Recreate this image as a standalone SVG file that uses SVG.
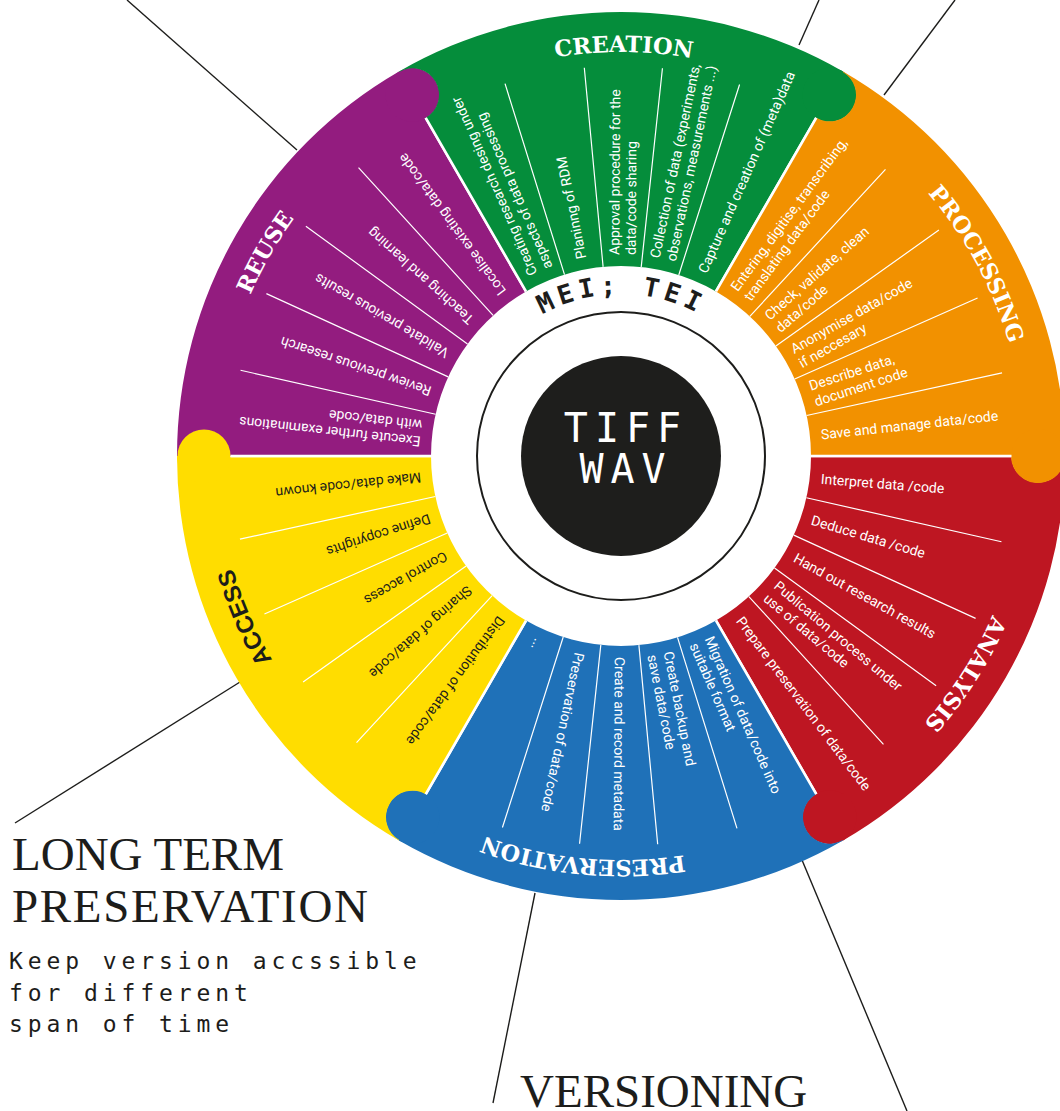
<svg xmlns="http://www.w3.org/2000/svg" width="1060" height="1111" viewBox="0 0 1060 1111">
<style>
.it{font-family:Roboto,"Liberation Sans",sans-serif;font-size:14px;fill:#fff}
.dk .it{fill:#1d1d1b}
.div{stroke:#fff;stroke-width:1.2;fill:none}
.sep{stroke:#fff;stroke-width:2.6;fill:none}
.title{font-family:"DejaVu Serif",serif;font-weight:bold;font-size:22.5px;fill:#fff}
.sans{font-family:"Liberation Sans",Arial,sans-serif;font-weight:bold;font-size:24px;fill:#1d1d1b}
.conn{stroke:#1d1d1b;stroke-width:1.4;fill:none}
.mono{font-family:"DejaVu Sans Mono","Liberation Mono",monospace}
.big{font-family:"Liberation Serif","Times New Roman",serif;font-size:47px;fill:#1d1d1b}
</style>
<defs>
<path id="sector" d="M190,0 L390.5,0 A26.5,26.5 0 0 0 443.5,0 L444,0 A444,444 0 0 1 222,384.52 L95,164.54 A190,190 0 0 0 190,0 Z"/>
<g id="lines">
<path class="div" d="M185.35,41.77 L380.46,85.74 M172.76,79.09 L354.6,162.35 M153.52,111.95 L315.12,229.79 M127.87,140.53 L262.47,288.46"/>
<path class="sep" d="M190,0 L390.5,0 M95,164.54 L195.25,338.18"/>
</g>
<path id="tp" d="M1025,456 A404,404 0 0 1 217,456 A404,404 0 0 1 1025,456"/>
<path id="tp2" d="M783,456 A162,162 0 0 1 459,456 A162,162 0 0 1 783,456"/>
</defs>
<rect width="1060" height="1111" fill="#fff"/>

<g id="connectors">
<path class="conn" d="M127,0 L297,150"/>
<path class="conn" d="M819,0 L799,45"/>
<path class="conn" d="M955,0 L884,95"/>
<path class="conn" d="M240,682 L15,823"/>
<path class="conn" d="M535,893 L493,1103"/>
<path class="conn" d="M802,860 L907,1111"/>
</g>

<g id="analysis">
<g transform="translate(621 456) rotate(0)">
<use href="#sector" fill="#BE1622"/>
<circle cx="208.5" cy="361.13" r="27" fill="#BE1622"/>
<use href="#lines"/>
<text class="it" transform="rotate(4.5)" x="201" y="12">Interpret data /code</text>
<text class="it" transform="rotate(16.5)" x="201" y="12">Deduce data /code</text>
<text class="it" transform="rotate(29)" x="201" y="9">Hand out research results</text>
<text class="it" transform="rotate(40)"><tspan x="201" y="3">Publication process under</tspan><tspan x="201" y="19.5">use of data/code</tspan></text>
<text class="it" transform="rotate(53)" x="201" y="8">Prepare preservation of data/code</text>
</g>
<text class="title" text-anchor="middle"><textPath href="#tp" startOffset="227.8">ANALYSIS</textPath></text>
</g>

<g id="preservation">
<g transform="translate(621 456) rotate(60)">
<use href="#sector" fill="#1F71B8"/>
<circle cx="208.5" cy="361.13" r="27" fill="#1F71B8"/>
<use href="#lines"/>
<text class="it" transform="rotate(6.35)"><tspan x="201" y="-3">Migration of data/code into</tspan><tspan x="201" y="13.5">suitable format</tspan></text>
<text class="it" transform="rotate(18.65)"><tspan x="201" y="-3">Create backup and</tspan><tspan x="201" y="13.5">save data/code</tspan></text>
<text class="it" transform="rotate(30.35)" x="201" y="5">Create and record metadata</text>
<text class="it" transform="rotate(41.9)" x="201" y="5">Preservation of data/code</text>
<text class="it" transform="rotate(53.85)" x="201" y="5">...</text>
</g>
<text class="title" text-anchor="middle"><textPath href="#tp" startOffset="672.7">PRESERVATION</textPath></text>
</g>

<g id="access" class="dk">
<g transform="translate(621 456) rotate(120)">
<use href="#sector" fill="#FFDD00"/>
<circle cx="208.5" cy="361.13" r="27" fill="#FFDD00"/>
<use href="#lines"/>
<text class="it" transform="rotate(6.35)" x="201" y="5">Distribution of data/code</text>
<text class="it" transform="rotate(18.65)" x="201" y="5">Sharing of data/code</text>
<text class="it" transform="rotate(30.35)" x="201" y="5">Control access</text>
<text class="it" transform="rotate(41.9)" x="201" y="5">Define copyrights</text>
<text class="it" transform="rotate(53.85)" x="201" y="5">Make data/code known</text>
</g>
<text class="sans" text-anchor="middle"><textPath href="#tp" startOffset="1104.9">ACCESS</textPath></text>
</g>

<g id="reuse">
<g transform="translate(621 456) rotate(180)">
<use href="#sector" fill="#931C7F"/>
<circle cx="208.5" cy="361.13" r="27" fill="#931C7F"/>
<use href="#lines"/>
<text class="it" transform="rotate(6.35)"><tspan x="201" y="-3">Execute further examinations</tspan><tspan x="201" y="13.5">with data/code</tspan></text>
<text class="it" transform="rotate(18.65)" x="201" y="5">Review previous research</text>
<text class="it" transform="rotate(30.35)" x="201" y="5">Validate previous results</text>
<text class="it" transform="rotate(41.9)" x="201" y="5">Teaching and learning</text>
<text class="it" transform="rotate(53.85)" x="201" y="5">Localise existing data/code</text>
</g>
<text class="title" text-anchor="middle"><textPath href="#tp" startOffset="1478.6">REUSE</textPath></text>
</g>

<g id="creation">
<g transform="translate(621 456) rotate(240)">
<use href="#sector" fill="#058D3B"/>
<circle cx="208.5" cy="361.13" r="27" fill="#058D3B"/>
<use href="#lines"/>
<text class="it" transform="rotate(6.35)"><tspan x="201" y="-3">Creating research desing under</tspan><tspan x="201" y="13.5">aspects of data processing</tspan></text>
<text class="it" transform="rotate(18.65)" x="201" y="5">Planinng of RDM</text>
<text class="it" transform="rotate(30.35)"><tspan x="201" y="-3">Approval procedure for the</tspan><tspan x="201" y="13.5">data/code sharing</tspan></text>
<text class="it" transform="rotate(41.9)"><tspan x="201" y="-3">Collection of data (experiments,</tspan><tspan x="201" y="13.5">observations, measurements ...)</tspan></text>
<text class="it" transform="rotate(53.85)" x="201" y="5">Capture and creation of (meta)data</text>
</g>
<text class="title" text-anchor="middle"><textPath href="#tp" startOffset="1905.9">CREATION</textPath></text>
</g>

<g id="processing">
<g transform="translate(621 456) rotate(300)">
<use href="#sector" fill="#F29100"/>
<circle cx="208.5" cy="361.13" r="27" fill="#F29100"/>
<use href="#lines"/>
<text class="it" transform="rotate(6.35)"><tspan x="201" y="-3">Entering, digitise, transcribing,</tspan><tspan x="201" y="13.5">translating data/code</tspan></text>
<text class="it" transform="rotate(18.65)"><tspan x="201" y="-3">Check, validate, clean</tspan><tspan x="201" y="13.5">data/code</tspan></text>
<text class="it" transform="rotate(30.35)"><tspan x="201" y="-3">Anonymise data/code</tspan><tspan x="201" y="13.5">if neccesary</tspan></text>
<text class="it" transform="rotate(41.9)"><tspan x="201" y="-3">Describe data,</tspan><tspan x="201" y="13.5">document code</tspan></text>
<text class="it" transform="rotate(53.85)" x="201" y="5">Save and manage data/code</text>
</g>
<text class="title" text-anchor="middle"><textPath href="#tp" startOffset="2337.4">PROCESSING</textPath></text>
</g>

<g id="center">
<text class="mono" font-size="26" font-weight="bold" letter-spacing="5" fill="#1d1d1b" text-anchor="middle"><textPath href="#tp2" startOffset="763.4">MEI; TEI</textPath></text>
<circle cx="621" cy="456" r="144" fill="none" stroke="#1d1d1b" stroke-width="2"/>
<circle cx="621" cy="456" r="100" fill="#1e1e1c"/>
<text class="mono" font-size="40" letter-spacing="7" fill="#fff" text-anchor="middle" x="626" y="442">TIFF</text>
<text class="mono" font-size="40" letter-spacing="7" fill="#fff" text-anchor="middle" x="626" y="483">WAV</text>
</g>

<g id="long-term-preservation">
<text class="big" x="12" y="870">LONG TERM</text>
<text class="big" x="12" y="922" textLength="356" lengthAdjust="spacing">PRESERVATION</text>
<text class="mono" font-size="23" letter-spacing="4.9" fill="#1d1d1b"><tspan x="9" y="969">Keep version accssible</tspan><tspan x="9" y="1001">for different</tspan><tspan x="9" y="1032">span of time</tspan></text>
</g>

<g id="versioning">
<text class="big" x="520" y="1107">VERSIONING</text>
</g>
</svg>
